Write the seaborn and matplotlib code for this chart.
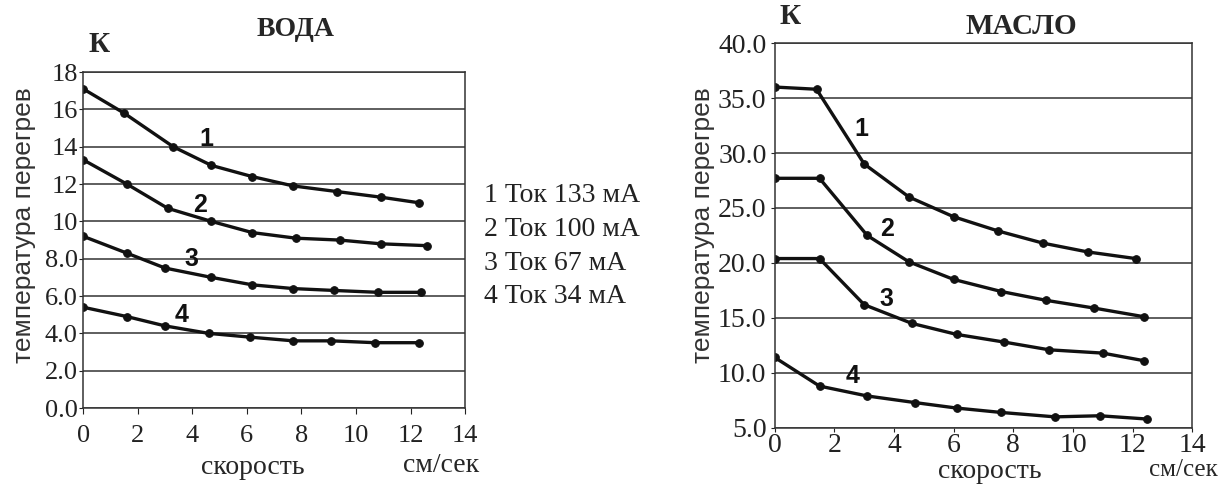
import numpy as np
import pandas as pd
import matplotlib
matplotlib.use("Agg")
import matplotlib.pyplot as plt
import seaborn as sns

# --- data ---
water_x = [
    [0.0, 1.5, 3.3, 4.7, 6.2, 7.7, 9.3, 10.9, 12.3],
    [0.0, 1.6, 3.1, 4.7, 6.2, 7.8, 9.4, 10.9, 12.6],
    [0.0, 1.6, 3.0, 4.7, 6.2, 7.7, 9.2, 10.8, 12.4],
    [0.0, 1.6, 3.0, 4.6, 6.1, 7.7, 9.1, 10.7, 12.3],
]
water_y = [
    [17.1, 15.8, 14.0, 13.0, 12.4, 11.9, 11.6, 11.3, 11.0],
    [13.3, 12.0, 10.7, 10.0, 9.4, 9.1, 9.0, 8.8, 8.7],
    [9.2, 8.3, 7.5, 7.0, 6.6, 6.4, 6.3, 6.2, 6.2],
    [5.4, 4.9, 4.4, 4.0, 3.8, 3.6, 3.6, 3.5, 3.5],
]
oil_x = [
    [0.0, 1.4, 3.0, 4.5, 6.0, 7.5, 9.0, 10.5, 12.1],
    [0.0, 1.5, 3.1, 4.5, 6.0, 7.6, 9.1, 10.7, 12.4],
    [0.0, 1.5, 3.0, 4.6, 6.1, 7.7, 9.2, 11.0, 12.4],
    [0.0, 1.5, 3.1, 4.7, 6.1, 7.6, 9.4, 10.9, 12.5],
]
oil_y = [
    [36.0, 35.8, 29.0, 26.0, 24.2, 22.9, 21.8, 21.0, 20.4],
    [27.7, 27.7, 22.5, 20.1, 18.5, 17.4, 16.6, 15.9, 15.1],
    [20.4, 20.4, 16.2, 14.5, 13.5, 12.8, 12.1, 11.8, 11.1],
    [11.4, 8.8, 7.9, 7.3, 6.8, 6.4, 6.0, 6.1, 5.8],
]
curve_ids = ["1", "2", "3", "4"]
legend_lines = ["1 Ток 133 мА", "2 Ток 100 мА", "3 Ток 67 мА", "4 Ток 34 мА"]
water_yticks = [0, 2, 4, 6, 8, 10, 12, 14, 16, 18]
water_ylabels = ["0.0", "2.0", "4.0", "6.0", "8.0", "10", "12", "14", "16", "18"]
oil_yticks = [5, 10, 15, 20, 25, 30, 35, 40]
oil_ylabels = ["5.0", "10.0", "15.0", "20.0", "25.0", "30.0", "35.0", "40.0"]
xticks = [0, 2, 4, 6, 8, 10, 12, 14]
# where the curve numbers sit (data coords)
water_num_pos = [(4.5, 14.4), (4.3, 10.9), (3.95, 8.0), (3.6, 5.0)]
oil_num_pos = [(2.9, 32.2), (3.75, 23.1), (3.75, 16.7), (2.6, 9.7)]

sns.set_style("ticks")
plt.rcParams['font.family'] = ['Liberation Serif', 'DejaVu Serif']

fig = plt.figure(figsize=(12.24, 4.84), dpi=100)
ax1 = fig.add_axes([0.068, 0.157, 0.312, 0.694])
ax2 = fig.add_axes([0.633, 0.116, 0.341, 0.795])


def draw(ax, xs, ys, num_pos):
    for cid, x, y in zip(curve_ids, xs, ys):
        df = pd.DataFrame({"x": x, "y": y})
        sns.lineplot(data=df, x="x", y="y", ax=ax, color="#111111", linewidth=2.4,
                     marker="o", markersize=5.5, markeredgecolor="#111111", sort=False)
    for cid, (px, py) in zip(curve_ids, num_pos):
        ax.text(px, py, cid, fontsize=18, fontweight="bold", family="Liberation Sans",
                ha="center", va="center", color="#111111")
    ax.set_xlim(0, 14)
    ax.set_xticks(xticks)
    ax.grid(axis="y", color="#333333", linewidth=1.1)
    ax.set_axisbelow(True)
    for s in ax.spines.values():
        s.set_color("#333333")
        s.set_linewidth(1.1)
    ax.set_xlabel("")
    ax.set_ylabel("")


draw(ax1, water_x, water_y, water_num_pos)
ax1.set_ylim(0, 18)
ax1.set_yticks(water_yticks)
ax1.set_yticklabels(water_ylabels)
ax1.tick_params(axis="y", labelsize=19, length=3, pad=1, colors="#222222")
ax1.tick_params(axis="x", labelsize=19, length=4, pad=8, colors="#222222")

draw(ax2, oil_x, oil_y, oil_num_pos)
ax2.set_ylim(5, 40)
ax2.set_yticks(oil_yticks)
ax2.set_yticklabels(oil_ylabels)
ax2.tick_params(axis="y", labelsize=20, length=3, pad=3, colors="#222222")
ax2.tick_params(axis="x", labelsize=20, length=3, pad=1, colors="#222222")

# titles, units, axis names
fig.text(296 / 1224, 1 - 30 / 484, "ВОДА", fontsize=20, fontweight="bold", ha="center", va="center")
fig.text(1021 / 1224, 1 - 27 / 484, "МАСЛО", fontsize=21, fontweight="bold", ha="center", va="center")
fig.text(99 / 1224, 1 - 45 / 484, "К", fontsize=21, fontweight="bold", ha="center", va="center")
fig.text(790 / 1224, 1 - 17 / 484, "К", fontsize=21, fontweight="bold", ha="center", va="center")

fig.text(253 / 1224, 1 - 468 / 484, "скорость", fontsize=20, ha="center", va="center")
fig.text(441 / 1224, 1 - 465 / 484, "см/сек", fontsize=20, ha="center", va="center")
fig.text(990 / 1224, 1 - 472 / 484, "скорость", fontsize=20, ha="center", va="center")
fig.text(1183 / 1224, 1 - 470 / 484, "см/сек", fontsize=18, ha="center", va="center")

fig.text(24 / 1224, 1 - 225 / 484, "температура перегрев", fontsize=19, rotation=90,
         family="Liberation Sans", color="#333333", ha="center", va="center")
fig.text(703 / 1224, 1 - 225 / 484, "температура перегрев", fontsize=19, rotation=90,
         family="Liberation Sans", color="#333333", ha="center", va="center")

for i, line in enumerate(legend_lines):
    fig.text(484 / 1224, 1 - (196 + 33.5 * i) / 484, line, fontsize=20, ha="left", va="center",
             color="#222222")

fig.savefig("out.png", dpi=100)
